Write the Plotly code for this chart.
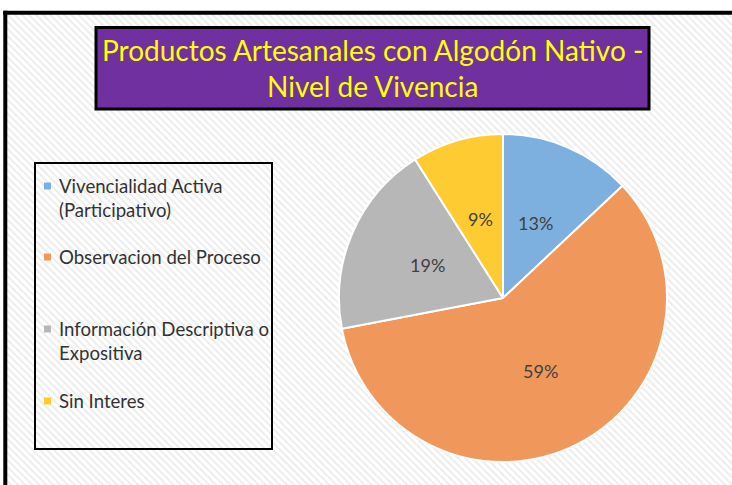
import math
import plotly.graph_objects as go

W, H = 732, 485

title_lines = ["Productos Artesanales con Algodón Nativo -", "Nivel de Vivencia"]
labels = ["Vivencialidad Activa (Participativo)", "Observacion del Proceso",
          "Información Descriptiva o Expositiva", "Sin Interes"]
legend_lines = [["Vivencialidad Activa", "(Participativo)"], ["Observacion del Proceso"],
                ["Información Descriptiva o", "Expositiva"], ["Sin Interes"]]
values = [13, 59, 19, 9]
colors = ["#7eb0df", "#f0985c", "#b7b7b7", "#ffcb33"]


def px(x):
    return x / W


def py(y):
    return 1 - y / H


fig = go.Figure()

# striped chart-area background
fig.add_trace(go.Scatter(
    x=[0, 1, 1, 0, 0], y=[1, 1, 0, 0, 1],
    fill="toself", mode="none", fillcolor="#ffffff",
    fillpattern=dict(shape="\\", fgcolor="#d8d8d8", bgcolor="#ffffff", size=5, solidity=0.35),
    hoverinfo="skip", showlegend=False, xaxis="x", yaxis="y"))

cx, cy, r = 503, 298, 164
fig.add_trace(go.Pie(
    labels=labels, values=values, sort=False, direction="clockwise", rotation=0,
    marker=dict(colors=colors, line=dict(color="#ffffff", width=2)),
    textinfo="none",
    domain=dict(x=[px(cx - r), px(cx + r)], y=[py(cy + r), py(cy - r)]),
    showlegend=False, hoverinfo="label+percent"))

shapes = [
    # white margin outside the chart frame (top and left)
    dict(type="rect", xref="paper", yref="paper", x0=0, y0=py(12.8), x1=1, y1=1,
         line=dict(width=0), fillcolor="#ffffff", layer="above"),
    dict(type="rect", xref="paper", yref="paper", x0=0, y0=0, x1=px(5.3), y1=1,
         line=dict(width=0), fillcolor="#ffffff", layer="above"),
    # outer chart border (only top and left edges are visible in the crop)
    dict(type="line", xref="paper", yref="paper", x0=px(3.3), y0=py(12.8), x1=1.0, y1=py(12.8),
         line=dict(color="#000000", width=4), layer="above"),
    dict(type="line", xref="paper", yref="paper", x0=px(5.3), y0=py(10.8), x1=px(5.3), y1=0,
         line=dict(color="#000000", width=4), layer="above"),
    # title box
    dict(type="rect", xref="paper", yref="paper", x0=px(96), y0=py(27.5), x1=px(649), y1=py(109),
         line=dict(color="#000000", width=3), fillcolor="#7030a0", layer="above"),
    # legend box
    dict(type="rect", xref="paper", yref="paper", x0=px(35), y0=py(163), x1=px(272), y1=py(449),
         line=dict(color="#000000", width=2), fillcolor="rgba(0,0,0,0)", layer="above"),
]

annotations = [
    dict(text="<br>".join(title_lines), x=px(373), y=py(68), xref="paper", yref="paper",
         xanchor="center", yanchor="middle", showarrow=False, align="center",
         font=dict(family="Lato", size=28, color="#ffff00")),
]

# percentage labels at mid-angle of each slice, about half the radius out
total = sum(values)
cum = 0
for v in values:
    mid = (cum + v / 2) / total * 2 * math.pi
    cum += v
    rr = 0.5 * r
    lx = cx + rr * math.sin(mid)
    ly = cy - rr * math.cos(mid)
    annotations.append(dict(text=f"{round(100 * v / total)}%", x=px(lx), y=py(ly),
                            xref="paper", yref="paper", xanchor="center", yanchor="middle",
                            showarrow=False, font=dict(family="Lato", size=18, color="#404040")))

item_tops = [186, 257, 329, 401]
for lines, col, yc in zip(legend_lines, colors, item_tops):
    shapes.append(dict(type="rect", xref="paper", yref="paper",
                       x0=px(44), x1=px(51), y0=py(yc - 3.5), y1=py(yc + 3.5),
                       line=dict(width=0), fillcolor=col, layer="above"))
    for i, t in enumerate(lines):
        annotations.append(dict(text=t, x=px(57), y=py(yc + 24 * i), xref="paper", yref="paper",
                                xanchor="left", yanchor="middle", showarrow=False,
                                font=dict(family="Lato", size=18.6, color="#333333")))

fig.update_layout(
    width=W, height=H, margin=dict(l=0, r=0, t=0, b=0),
    paper_bgcolor="#ffffff", plot_bgcolor="rgba(0,0,0,0)",
    xaxis=dict(range=[0, 1], domain=[0, 1], visible=False, fixedrange=True),
    yaxis=dict(range=[0, 1], domain=[0, 1], visible=False, fixedrange=True),
    shapes=shapes, annotations=annotations, showlegend=False,
)

fig.write_html("out.html", config={"displayModeBar": False},
               post_script="document.body.style.margin='0';document.body.style.overflow='hidden';")
